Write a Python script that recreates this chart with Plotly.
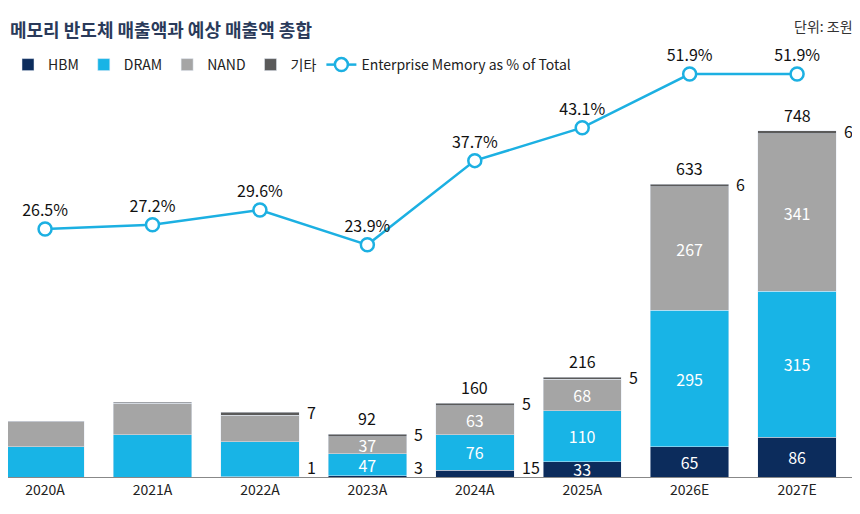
import plotly.graph_objects as go

years = ["2020A","2021A","2022A","2023A","2024A","2025A","2026E","2027E"]
hbm   = [0, 0, 1, 3, 15, 33, 65, 86]
dram  = [65, 91, 75, 47, 76, 110, 295, 315]
nand  = [54, 68, 57, 37, 63, 68, 267, 341]
other = [2, 3, 7, 5, 5, 5, 6, 6]
totals = [None, None, None, 92, 160, 216, 633, 748]
pct = [26.5, 27.2, 29.6, 23.9, 37.7, 43.1, 51.9, 51.9]
show_in = [False, False, False, True, True, True, True, True]

x = list(range(len(years)))
F = "Noto Sans CJK KR"
cols = dict(h="#0c2c5c", d="#18b4e6", n="#a5a5a5", o="#5a5a5a", line="#1cb0e2")

fig = go.Figure()
def bar(name, vals, col, txt):
    fig.add_trace(go.Bar(x=x, y=vals, name=name, marker_color=col, width=0.73,
                         text=txt, textposition="inside", insidetextanchor="middle",
                         textangle=0, constraintext="none",
                         textfont=dict(color="white", size=16, family=F),
                         hoverinfo="skip"))
bar("HBM", hbm, cols["h"], [str(v) if s and v >= 30 else "" for v, s in zip(hbm, show_in)])
bar("DRAM", dram, cols["d"], [str(v) if s else "" for v, s in zip(dram, show_in)])
bar("NAND", nand, cols["n"], [str(v) if s else "" for v, s in zip(nand, show_in)])
bar("기타", other, cols["o"], ["" for _ in other])
fig.add_trace(go.Scatter(x=x, y=pct, yaxis="y2", name="Enterprise Memory as % of Total",
                         mode="lines+markers+text", line=dict(color=cols["line"], width=2.5),
                         marker=dict(size=13, color="white", line=dict(color=cols["line"], width=2.5)),
                         text=[f"{v}%" for v in pct], textposition="top center",
                         textfont=dict(size=16, family=F, color="#111"), cliponaxis=False))

ann = []
for i in x:
    tot = hbm[i] + dram[i] + nand[i] + other[i]
    if totals[i] is not None:
        ann.append(dict(x=i, y=tot, text=str(totals[i]), showarrow=False, yanchor="bottom",
                        yshift=2, font=dict(size=16, family=F, color="#111")))
    if i >= 2:
        ann.append(dict(x=i + 0.37, y=tot, text=str(other[i]), showarrow=False, xanchor="left",
                        yanchor="middle", xshift=5, font=dict(size=16, family=F, color="#111")))
    if 0 < hbm[i] < 30:
        ann.append(dict(x=i + 0.37, y=0, text=str(hbm[i]), showarrow=False, xanchor="left",
                        yanchor="bottom", xshift=5, yshift=-4, font=dict(size=16, family=F, color="#111")))
ann.append(dict(xref="paper", yref="paper", x=0, y=1, xanchor="left", yanchor="top",
                yshift=35, text="<b>메모리 반도체 매출액과 예상 매출액 총합</b>", showarrow=False,
                font=dict(size=18, family=F, color="#2a3a5a")))
ann.append(dict(xref="paper", yref="paper", x=0.985, y=1, xanchor="right", yanchor="top",
                yshift=35, text="단위: 조원", showarrow=False,
                font=dict(size=14, family=F, color="#333")))

fig.update_layout(
    width=860, height=514, barmode="stack", plot_bgcolor="white", paper_bgcolor="white",
    margin=dict(l=0, r=0, t=41, b=45), showlegend=True,
    legend=dict(orientation="h", x=0, y=1.0, yanchor="top", xanchor="left",
                font=dict(size=14, family=F, color="#222"), traceorder="normal",
                bgcolor="rgba(0,0,0,0)"),
    xaxis=dict(range=[-0.345, 7.66], tickmode="array", tickvals=x, ticktext=years,
               showgrid=False, showline=True, linecolor="#888", ticks="",
               tickfont=dict(size=14, family=F, color="#222")),
    yaxis=dict(range=[0, 925], visible=False),
    yaxis2=dict(range=[-14.16, 56.0], overlaying="y", visible=False),
    annotations=ann,
)
fig.write_html("out.html")
